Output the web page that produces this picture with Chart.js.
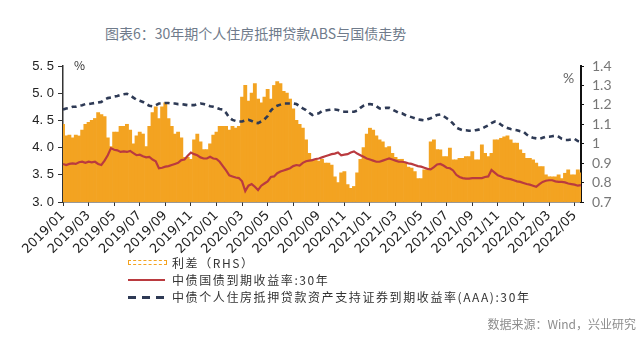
<!DOCTYPE html>
<html>
<head>
<meta charset="utf-8">
<script src="https://cdn.jsdelivr.net/npm/chart.js@4.4.1/dist/chart.umd.min.js"></script>
<style>
  body { margin: 0; background: #fff; }
  #wrap { position: relative; width: 640px; height: 346px; overflow: hidden; font-family: "Noto Sans CJK SC", "Noto Sans", sans-serif; }
  #c { position: absolute; left: 0; top: 0; }
  .title { position: absolute; left: 105px; top: 23px; font-size: 14px; line-height: 20px; color: #6f7b8b; white-space: nowrap; }
  .unit { position: absolute; white-space: nowrap; }
  .leg { position: absolute; left: 128px; height: 16px; white-space: nowrap; font-size: 12px; line-height: 16px; color: #333; letter-spacing: 1.6px; }
  .leg .sym { position: absolute; left: 0; width: 37px; }
  .leg .txt { position: absolute; left: 44px; top: 0; }
  .src { position: absolute; right: 4px; top: 316px; font-size: 12px; line-height: 16px; color: #8c8c8c; white-space: nowrap; }
</style>
</head>
<body>
<div id="wrap">
  <div class="title">图表6：30年期个人住房抵押贷款ABS与国债走势</div>
  <canvas id="c" width="640" height="346"></canvas>
  <div class="unit" style="left:74px;top:56px;font-size:12px;color:#333;">%</div>
  <div class="unit" style="left:563px;top:69px;font-size:14px;color:#666;font-family:Lato,sans-serif;">%</div>
  <div class="leg" style="top:255px;">
    <span class="sym" style="top:5px;height:3px;border:1.5px dashed #F3A321;"></span>
    <span class="txt">利差（RHS）</span>
  </div>
  <div class="leg" style="top:272px;">
    <span class="sym" style="top:7px;height:2px;background:#BA3A3F;"></span>
    <span class="txt">中债国债到期收益率:30年</span>
  </div>
  <div class="leg" style="top:289px;">
    <span class="sym" style="top:7px;height:3px;background:repeating-linear-gradient(to right,#2E3A55 0 8px,transparent 8px 14px);"></span>
    <span class="txt">中债个人住房抵押贷款资产支持证券到期收益率(AAA):30年</span>
  </div>
  <div class="src">数据来源：Wind，兴业研究</div>
</div>
<script>
// months covered, four weekly points per month (last month only partly)
const months = ['2019/01','2019/02','2019/03','2019/04','2019/05','2019/06','2019/07','2019/08','2019/09','2019/10','2019/11','2019/12',
  '2020/01','2020/02','2020/03','2020/04','2020/05','2020/06','2020/07','2020/08','2020/09','2020/10','2020/11','2020/12',
  '2021/01','2021/02','2021/03','2021/04','2021/05','2021/06','2021/07','2021/08','2021/09','2021/10','2021/11','2021/12',
  '2022/01','2022/02','2022/03','2022/04','2022/05'];

const tickLabels = ['2019/01','2019/03','2019/05','2019/07','2019/09','2019/11','2020/01','2020/03','2020/05','2020/07',
  '2020/09','2020/11','2021/01','2021/03','2021/05','2021/07','2021/09','2021/11','2022/01','2022/03','2022/05'];

// 利差 (RHS), %
const spread = [1.10,1.04,1.045,1.03,1.045,1.04,1.07,1.10,1.11,1.12,
  1.13,1.16,1.15,1.14,1.03,0.985,1.06,1.06,1.09,1.09,
  1.10,1.07,1.00,1.04,1.06,1.05,0.985,1.09,1.16,1.19,
  1.13,1.19,1.21,1.13,1.09,1.05,1.06,1.03,0.93,0.93,
  0.92,1.02,1.05,1.01,0.97,0.97,1.00,1.045,1.06,1.09,
  1.09,1.09,1.07,1.09,1.08,1.09,1.24,1.30,1.22,1.26,
  1.31,1.23,1.21,1.24,1.28,1.23,1.30,1.32,1.31,1.27,
  1.26,1.23,1.18,1.12,1.10,1.08,1.02,0.95,0.92,0.92,
  0.91,0.92,0.90,0.90,0.89,0.83,0.80,0.85,0.856,0.79,
  0.77,0.78,0.85,0.92,0.98,1.05,1.08,1.07,1.04,1.02,
  1.01,0.98,0.985,0.95,0.93,0.92,0.92,0.90,0.88,0.875,
  0.856,0.82,0.82,0.865,0.865,1.01,1.02,0.97,0.968,0.934,
  0.934,0.977,0.917,0.917,0.925,0.925,0.934,0.934,0.96,0.917,
  0.917,0.994,0.95,0.934,0.95,1.02,1.02,1.028,1.035,1.04,
  1.02,1.003,1.003,0.968,0.95,0.925,0.925,0.917,0.90,0.882,
  0.882,0.84,0.83,0.83,0.83,0.84,0.82,0.848,0.865,0.84,
  0.84,0.865,0.85];

// 中债国债到期收益率:30年, %
const govYield = [3.70,3.68,3.70,3.71,3.70,3.73,3.74,3.72,3.74,3.73,
  3.74,3.70,3.68,3.76,3.86,3.99,3.96,3.95,3.92,3.93,
  3.92,3.94,3.90,3.86,3.87,3.84,3.82,3.83,3.78,3.75,
  3.62,3.63,3.65,3.66,3.68,3.70,3.72,3.77,3.78,3.85,
  3.91,3.88,3.86,3.82,3.80,3.80,3.83,3.80,3.79,3.74,
  3.66,3.58,3.49,3.47,3.45,3.44,3.38,3.20,3.30,3.33,
  3.28,3.22,3.30,3.34,3.38,3.46,3.47,3.53,3.56,3.58,
  3.60,3.62,3.66,3.68,3.67,3.72,3.75,3.76,3.77,3.79,
  3.80,3.82,3.84,3.86,3.88,3.89,3.91,3.86,3.87,3.88,
  3.91,3.93,3.89,3.86,3.83,3.80,3.78,3.76,3.74,3.74,
  3.76,3.78,3.80,3.78,3.76,3.74,3.74,3.73,3.71,3.70,
  3.68,3.66,3.65,3.63,3.61,3.60,3.64,3.69,3.70,3.67,
  3.63,3.62,3.58,3.50,3.46,3.44,3.43,3.43,3.44,3.44,
  3.44,3.44,3.46,3.47,3.59,3.54,3.49,3.47,3.44,3.43,
  3.42,3.40,3.38,3.37,3.35,3.33,3.32,3.30,3.28,3.33,
  3.37,3.39,3.40,3.40,3.38,3.37,3.37,3.36,3.34,3.33,
  3.32,3.30,3.31];

// 中债个人住房抵押贷款资产支持证券到期收益率(AAA):30年, %
const absYield = [4.70,4.72,4.73,4.75,4.75,4.77,4.78,4.80,4.80,4.81,
  4.82,4.83,4.84,4.88,4.91,4.92,4.94,4.95,4.97,4.98,
  4.99,4.96,4.92,4.88,4.86,4.84,4.80,4.77,4.76,4.78,
  4.81,4.81,4.82,4.82,4.81,4.81,4.80,4.80,4.79,4.78,
  4.78,4.78,4.80,4.81,4.80,4.78,4.76,4.75,4.73,4.71,
  4.70,4.64,4.55,4.51,4.49,4.48,4.48,4.50,4.51,4.49,
  4.46,4.45,4.48,4.52,4.58,4.68,4.74,4.77,4.79,4.81,
  4.81,4.81,4.81,4.80,4.76,4.72,4.69,4.64,4.60,4.62,
  4.63,4.67,4.68,4.69,4.70,4.70,4.69,4.67,4.66,4.66,
  4.66,4.66,4.68,4.73,4.77,4.79,4.80,4.79,4.76,4.72,
  4.72,4.73,4.73,4.70,4.67,4.64,4.63,4.60,4.58,4.56,
  4.54,4.52,4.51,4.50,4.52,4.54,4.57,4.60,4.61,4.58,
  4.54,4.50,4.44,4.37,4.34,4.32,4.32,4.31,4.31,4.32,
  4.33,4.35,4.38,4.41,4.45,4.48,4.47,4.42,4.38,4.36,
  4.34,4.33,4.32,4.30,4.29,4.24,4.20,4.18,4.17,4.16,
  4.18,4.20,4.20,4.21,4.22,4.20,4.16,4.14,4.14,4.15,
  4.16,4.12,4.11];

const labels = spread.map((v, i) => months[Math.floor(i / 4)] + '-' + (i % 4 + 1));
const showTick = i => i % 4 === 0 && tickLabels.includes(months[i / 4]);

const config = {
  type: 'bar',
  data: {
    labels: labels,
    datasets: [
      {
        type: 'line',
        label: '中债国债到期收益率:30年',
        data: govYield,
        yAxisID: 'y',
        borderColor: '#BA3A3F',
        borderWidth: 2.2,
        pointRadius: 0,
        tension: 0,
        order: 1
      },
      {
        type: 'line',
        label: '中债个人住房抵押贷款资产支持证券到期收益率(AAA):30年',
        data: absYield,
        yAxisID: 'y',
        borderColor: '#2E3A55',
        borderWidth: 2.6,
        borderDash: [5, 4],
        pointRadius: 0,
        tension: 0,
        order: 2
      },
      {
        type: 'bar',
        label: '利差（RHS）',
        data: spread,
        yAxisID: 'y1',
        backgroundColor: '#F3A321',
        borderWidth: 0,
        barPercentage: 1,
        categoryPercentage: 1,
        order: 3
      }
    ]
  },
  options: {
    responsive: false,
    animation: false,
    layout: { padding: { top: 66, left: 0, right: 0, bottom: 84 } },
    plugins: { legend: { display: false }, tooltip: { enabled: false } },
    scales: {
      x: {
        offset: false,
        grid: {
          offset: false,
          drawOnChartArea: false,
          drawTicks: true,
          tickLength: 4,
          tickColor: ctx => showTick(ctx.index) ? '#333' : 'rgba(0,0,0,0)'
        },
        border: { color: '#333', width: 1.5 },
        ticks: {
          autoSkip: false,
          maxRotation: 45,
          minRotation: 45,
          padding: 2,
          color: '#222',
          font: { family: 'DejaVu Sans', size: 13 },
          callback: (v, i) => showTick(i) ? months[i / 4] : ''
        },
        afterFit: s => { s.height = 60; }
      },
      y: {
        position: 'left',
        min: 3,
        max: 5.5,
        ticks: {
          stepSize: 0.5,
          autoSkip: false,
          color: '#222',
          padding: 4,
          font: { family: 'Liberation Sans', size: 13 },
          callback: v => v.toFixed(1).replace('.', '. ')
        },
        grid: { drawOnChartArea: false, tickLength: 5, color: '#333' },
        border: { color: '#333', width: 1.5 },
        afterFit: s => { s.width = 63; }
      },
      y1: {
        position: 'right',
        min: 0.7,
        max: 1.4,
        ticks: {
          stepSize: 0.1,
          autoSkip: false,
          color: '#777',
          padding: 8,
          font: { family: 'Lato', size: 14 },
          callback: v => String(+v.toFixed(1))
        },
        grid: { drawOnChartArea: false, tickLength: 3, color: '#111' },
        border: { color: '#111', width: 2 },
        afterFit: s => { s.width = 59; }
      }
    }
  }
};

const chart = new Chart(document.querySelector('#c'), config);
</script>
</body>
</html>
